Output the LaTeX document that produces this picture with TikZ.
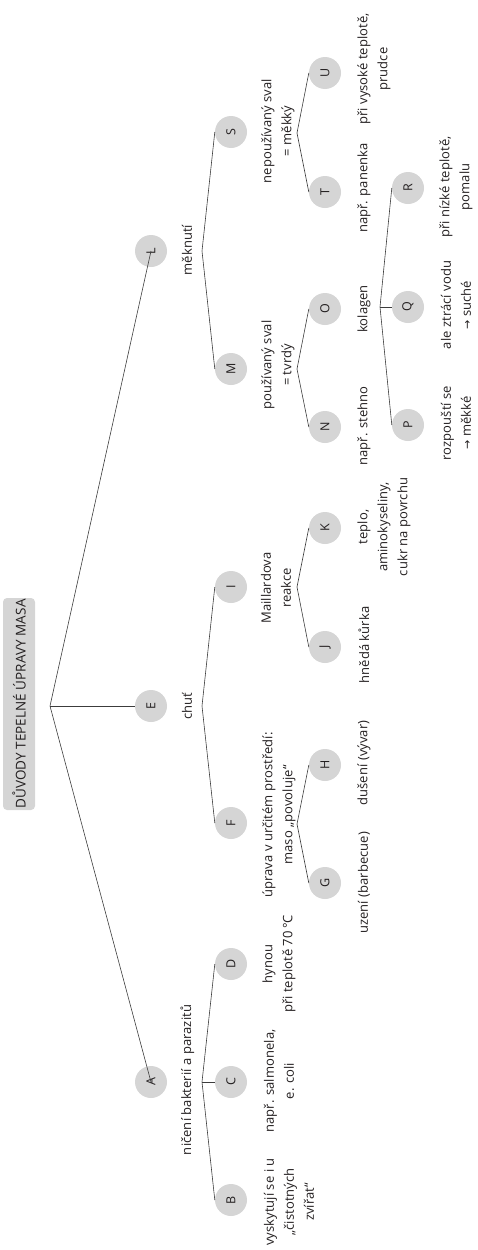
\documentclass[tikz,border=0pt]{standalone}
\usepackage{fontspec}
\setmainfont{Open Sans}[LetterSpace=0.5]
\newfontfamily\symfont{DejaVu Sans}
\usepackage{graphicx}
\definecolor{circfill}{HTML}{D5D5D5}
\definecolor{ink}{HTML}{231F20}
\definecolor{linec}{HTML}{3C3C3C}
\newcommand{\arr}{{\symfont\fontsize{11}{20}\selectfont →}}
\begin{document}
\begin{tikzpicture}[x=1pt,y=-1pt,
  circ/.style={circle,fill=circfill,minimum size=32pt,inner sep=0pt,text=ink,font=\fontsize{12.5}{14}\selectfont},
  lbl/.style={rotate=90,align=center,text=ink,inner sep=0pt,font=\fontsize{13}{20}\selectfont},
  conn/.style={draw=linec,line width=0.6pt},
  titlebox/.style={rotate=90,fill=circfill,rounded corners=4pt,minimum width=212pt,minimum height=32pt,inner sep=0pt,text=ink,font=\fontsize{13.5}{16}\selectfont}]
\useasboundingbox (0,0) rectangle (477,1250);

% title
\node[titlebox] (title) at (19,704) {DŮVODY TEPELNÉ ÚPRAVY MASA};

% fork points
\coordinate (root) at (50,706);
\coordinate (fA) at (202,1082);
\coordinate (fE) at (202,706);
\coordinate (fL) at (202,251);
\coordinate (fF) at (297,824);
\coordinate (fI) at (297,587);
\coordinate (fM) at (297,369);
\coordinate (fS) at (297,133);
\coordinate (fO) at (380,307);

% circles
\node[circ] (A) at (151,1082) {\rotatebox{90}{A}};
\node[circ] (E) at (151,706) {\rotatebox{90}{E}};
\node[circ] (L) at (151,251) {\rotatebox{90}{L}};
\node[circ] (B) at (231,1200) {\rotatebox{90}{B}};
\node[circ] (C) at (231,1082) {\rotatebox{90}{C}};
\node[circ] (D) at (231,964) {\rotatebox{90}{D}};
\node[circ] (F) at (231,823) {\rotatebox{90}{F}};
\node[circ] (I) at (231,587) {\rotatebox{90}{I}};
\node[circ] (M) at (231,369) {\rotatebox{90}{M}};
\node[circ] (S) at (231,132) {\rotatebox{90}{S}};
\node[circ] (G) at (325,883) {\rotatebox{90}{G}};
\node[circ] (H) at (325,765) {\rotatebox{90}{H}};
\node[circ] (J) at (325,647) {\rotatebox{90}{J}};
\node[circ] (K) at (325,528) {\rotatebox{90}{K}};
\node[circ] (N) at (325,427) {\rotatebox{90}{N}};
\node[circ] (O) at (325,309) {\rotatebox{90}{O}};
\node[circ] (T) at (325,192) {\rotatebox{90}{T}};
\node[circ] (U) at (325,73) {\rotatebox{90}{U}};
\node[circ] (P) at (408,425) {\rotatebox{90}{P}};
\node[circ] (Q) at (408,307) {\rotatebox{90}{Q}};
\node[circ] (R) at (408,188) {\rotatebox{90}{R}};

% labels
\node[lbl] (lA) at (187.5,1080) {ničení bakterií a parazitů};
\node[lbl] (lE) at (187,706) {chuť};
\node[lbl] (lL) at (187,250) {měknutí};
\node[lbl] (lB) at (289,1202) {vyskytují se i u\\„čistotných\\zvířat“};
\node[lbl] (lC) at (279,1081) {např. salmonela,\\e. coli};
\node[lbl] (lD) at (279,964) {hynou\\při teplotě 70\,°C};
\node[lbl] (lF) at (279,815) {úprava v určitém prostředí:\\maso „povoluje“};
\node[lbl] (lI) at (276,588) {Maillardova\\reakce};
\node[lbl] (lM) at (278,365) {používaný sval\\= tvrdý};
\node[lbl] (lS) at (278,131) {nepoužívaný sval\\= měkký};
\node[lbl] (lG) at (364,883) {uzení (barbecue)};
\node[lbl] (lH) at (364,763) {dušení (vývar)};
\node[lbl] (lJ) at (364,645) {hnědá kůrka};
\node[lbl] (lK) at (384,527) {teplo,\\aminokyseliny,\\cukr na povrchu};
\node[lbl] (lN) at (364,426) {např. stehno};
\node[lbl] (lO) at (364,309) {kolagen};
\node[lbl] (lT) at (364,188) {např. panenka};
\node[lbl] (lU) at (374,69) {při vysoké teplotě,\\prudce};
\node[lbl] (lP) at (456,423) {rozpouští se\\\arr{} měkké};
\node[lbl] (lQ) at (456,305) {ale ztrácí vodu\\\arr{} suché};
\node[lbl] (lR) at (456,187) {při nízké teplotě,\\pomalu};

% connectors
\draw[conn] (root) -- (E.west);
\draw[conn] (root) -- (A.center);
\draw[conn] (root) -- (L.center);
\draw[conn] (fA) -- (B.west);
\draw[conn] (fA) -- (C.west);
\draw[conn] (fA) -- (D.west);
\draw[conn] (fE) -- (F.west);
\draw[conn] (fE) -- (I.west);
\draw[conn] (fL) -- (M.west);
\draw[conn] (fL) -- (S.west);
\draw[conn] (fF) -- (G.west);
\draw[conn] (fF) -- (H.west);
\draw[conn] (fI) -- (J.west);
\draw[conn] (fI) -- (K.west);
\draw[conn] (fM) -- (N.west);
\draw[conn] (fM) -- (O.west);
\draw[conn] (fS) -- (T.west);
\draw[conn] (fS) -- (U.west);
\draw[conn] (fO) -- (P.west);
\draw[conn] (fO) -- (Q.west);
\draw[conn] (fO) -- (R.west);
\end{tikzpicture}
\end{document}
